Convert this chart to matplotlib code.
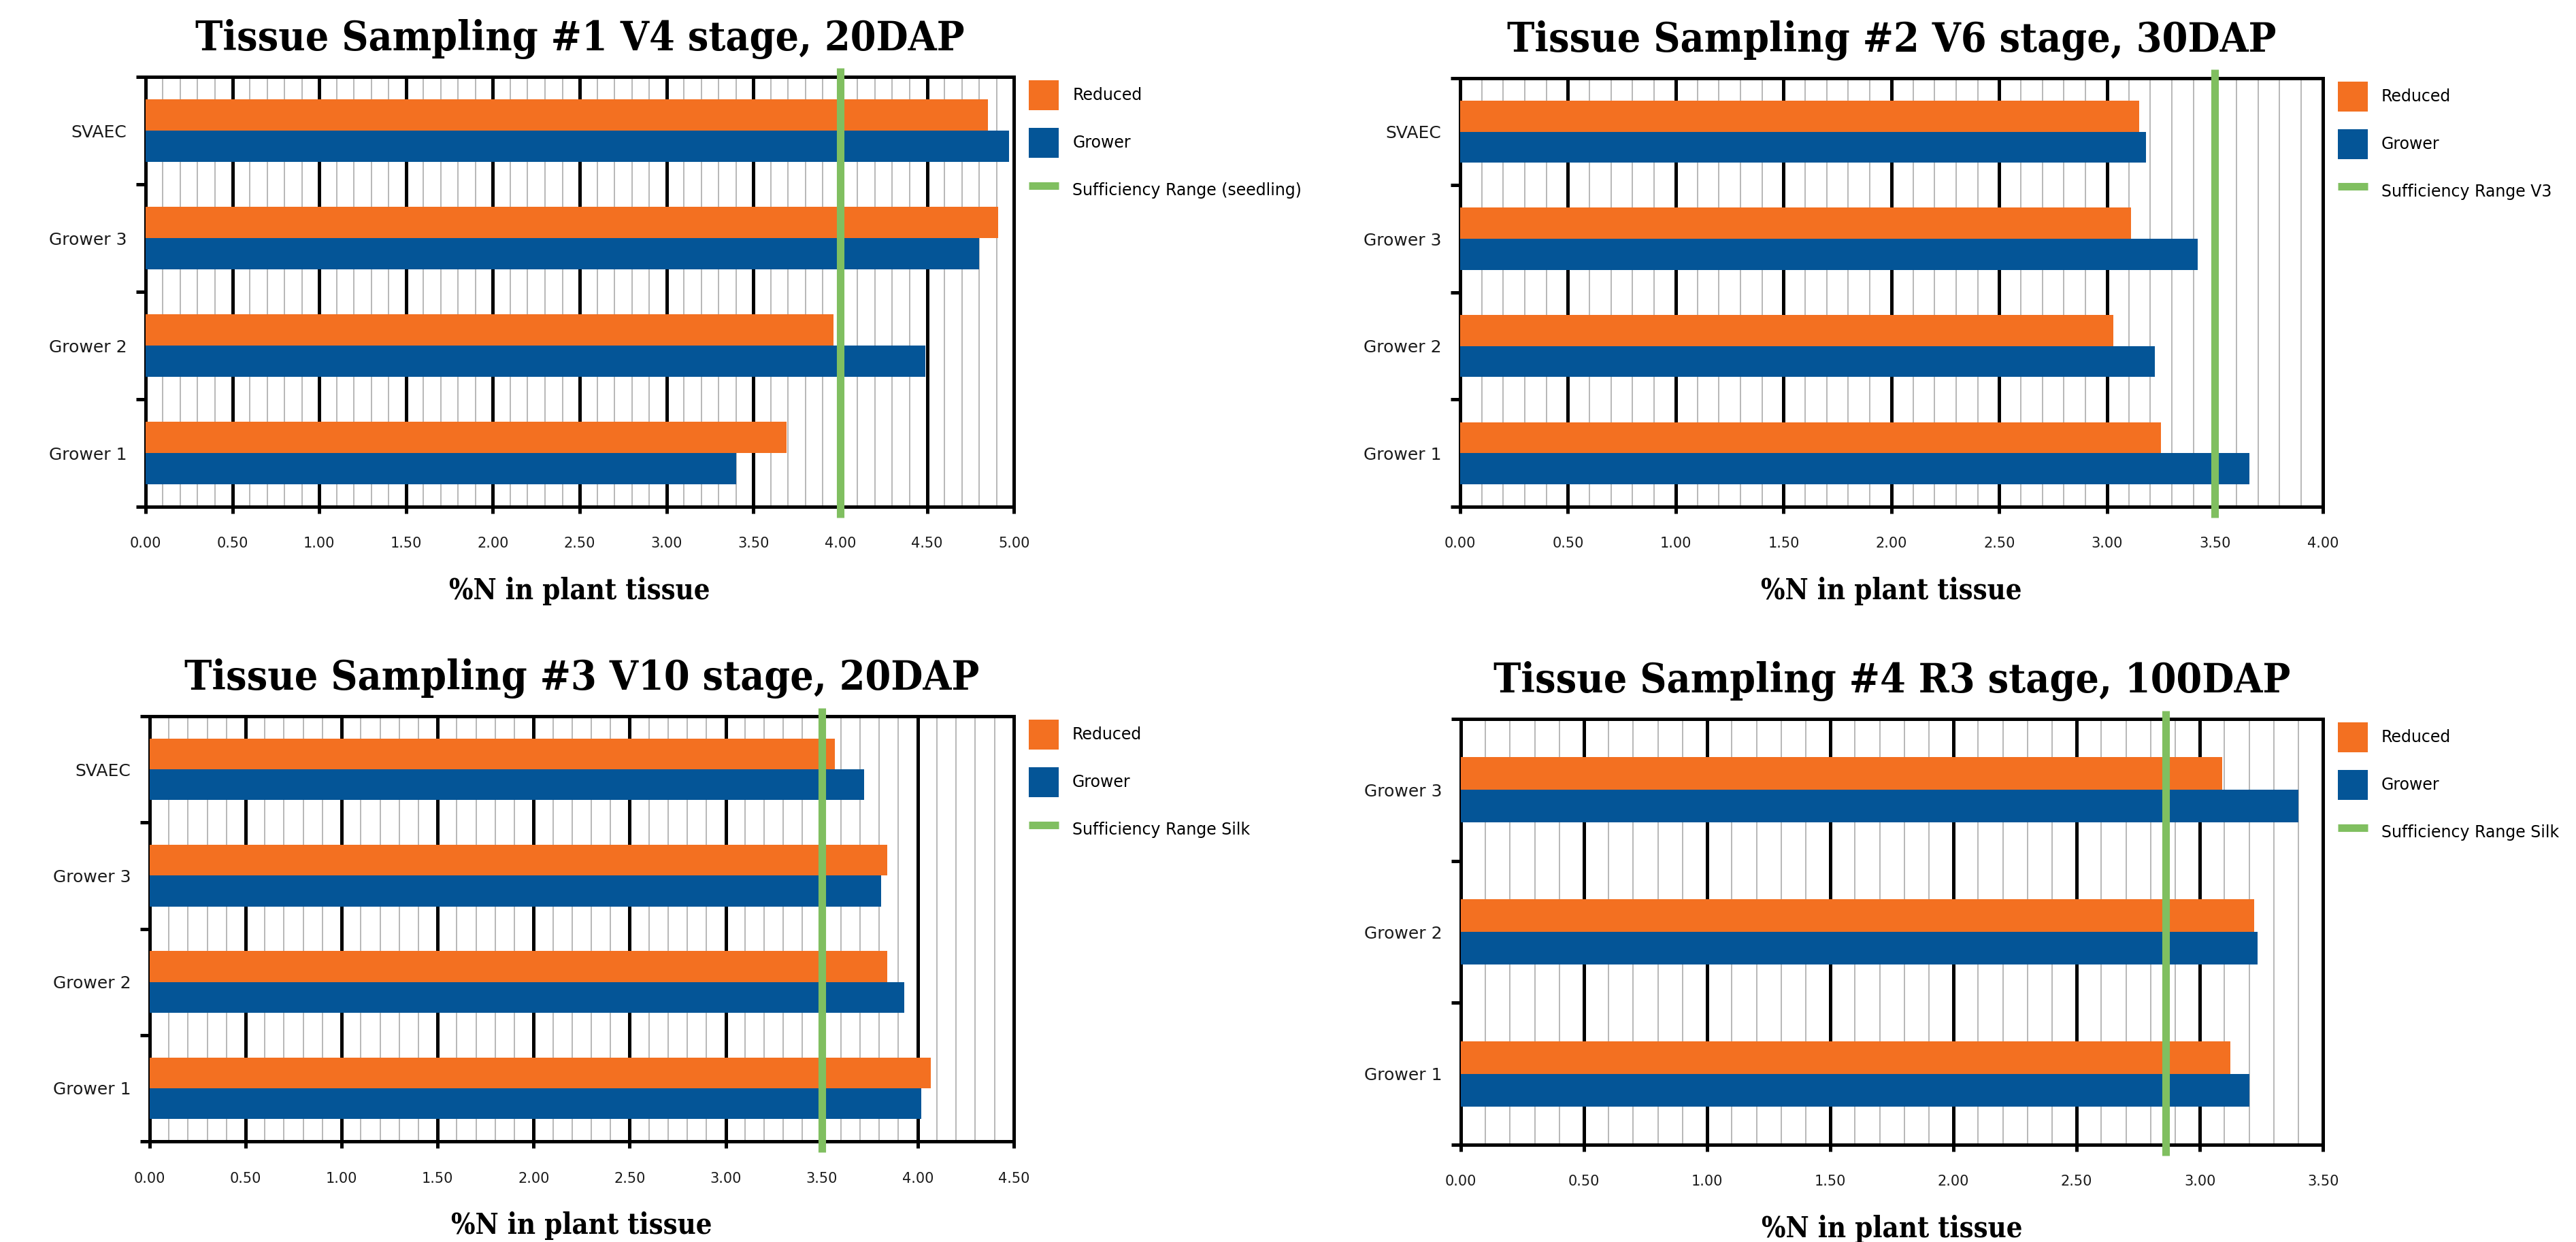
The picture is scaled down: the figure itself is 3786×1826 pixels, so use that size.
import matplotlib
matplotlib.use("Agg")
import matplotlib.pyplot as plt
import numpy as np
from matplotlib.ticker import MultipleLocator, FormatStrFormatter

# colours
ORANGE = '#F37021'
BLUE = '#045597'
GREEN = '#80BF60'

# --- data ---
cats_4 = ['Grower 1', 'Grower 2', 'Grower 3', 'SVAEC']
cats_3 = ['Grower 1', 'Grower 2', 'Grower 3']

s1_reduced = [3.69, 3.96, 4.91, 4.85]
s1_grower = [3.40, 4.49, 4.80, 4.97]
s1_suff = 4.00

s2_reduced = [3.25, 3.03, 3.11, 3.15]
s2_grower = [3.66, 3.22, 3.42, 3.18]
s2_suff = 3.50

s3_reduced = [4.07, 3.84, 3.84, 3.57]
s3_grower = [4.02, 3.93, 3.81, 3.72]
s3_suff = 3.50

s4_reduced = [3.125, 3.22, 3.09]
s4_grower = [3.20, 3.235, 3.40]
s4_suff = 2.86

titles = ['Tissue Sampling #1 V4 stage, 20DAP',
          'Tissue Sampling #2 V6 stage, 30DAP',
          'Tissue Sampling #3 V10 stage, 20DAP',
          'Tissue Sampling #4 R3 stage, 100DAP']
suff_labels = ['Sufficiency Range (seedling)',
               'Sufficiency Range V3',
               'Sufficiency Range Silk',
               'Sufficiency Range Silk']
xmaxes = [5.0, 4.0, 4.5, 3.5]
xlabel = '%N in plant tissue'

TITLE_FONT = dict(family='DejaVu Serif', weight='bold', stretch='condensed')
SANS = 'DejaVu Sans'


def draw_panel(ax, title, cats, reduced, grower, suff, suff_label, xmax, bar_h):
    y = np.arange(len(cats))
    b1 = ax.barh(y + bar_h / 2, reduced, height=bar_h, color=ORANGE, label='Reduced', zorder=3)
    b2 = ax.barh(y - bar_h / 2, grower, height=bar_h, color=BLUE, label='Grower', zorder=3)
    line = ax.axvline(suff, ymin=-0.025, ymax=1.02, color=GREEN, lw=8,
                      clip_on=False, zorder=4, label=suff_label, solid_capstyle='butt')

    ax.set_xlim(0, xmax)
    ax.set_ylim(-0.5, len(cats) - 0.5)

    ax.xaxis.set_major_locator(MultipleLocator(0.5))
    ax.xaxis.set_minor_locator(MultipleLocator(0.1))
    ax.xaxis.set_major_formatter(FormatStrFormatter('%.2f'))
    ax.set_yticks(y)
    ax.set_yticklabels(cats)
    ax.set_yticks(np.arange(len(cats) + 1) - 0.5, minor=True)

    ax.set_axisbelow(True)
    ax.grid(axis='x', which='major', color='black', lw=3.6)
    ax.grid(axis='x', which='minor', color='#a4a4a4', lw=1.1)

    for sp in ax.spines.values():
        sp.set_linewidth(3.6)
        sp.set_color('black')

    ax.tick_params(axis='x', which='major', length=7, width=3.6, pad=25,
                   labelsize=15, labelcolor='#1a1a1a')
    ax.tick_params(axis='x', which='minor', length=0)
    ax.tick_params(axis='y', which='major', length=0, pad=20,
                   labelsize=18, labelcolor='#1a1a1a')
    ax.tick_params(axis='y', which='minor', length=10, width=3.6)
    for lab in ax.get_xticklabels() + ax.get_yticklabels():
        lab.set_family(SANS)

    ax.set_title(title, fontsize=43.5, pad=28, **TITLE_FONT)
    ax.set_xlabel(xlabel, fontsize=30, labelpad=28, **TITLE_FONT)

    ax.legend(handles=[b1, b2, line], loc='upper left',
              bbox_to_anchor=(1.0 + 22 / 1276, 1.0 - 5 / 632), borderaxespad=0,
              borderpad=0, frameon=False, prop={'family': SANS, 'size': 17},
              handlelength=1.86, handleheight=2.49, labelspacing=1.1,
              handletextpad=0.85)


fig = plt.figure(figsize=(37.86, 18.26), dpi=100)

ax1 = fig.add_axes([0.0565, 0.592, 0.3371, 0.3461])
ax2 = fig.add_axes([0.5668, 0.592, 0.3349, 0.3451])
ax3 = fig.add_axes([0.0581, 0.081, 0.3354, 0.3423])
ax4 = fig.add_axes([0.5671, 0.0783, 0.3347, 0.3428])

draw_panel(ax1, titles[0], cats_4, s1_reduced, s1_grower, s1_suff, suff_labels[0], xmaxes[0], 0.29)
draw_panel(ax2, titles[1], cats_4, s2_reduced, s2_grower, s2_suff, suff_labels[1], xmaxes[1], 0.29)
draw_panel(ax3, titles[2], cats_4, s3_reduced, s3_grower, s3_suff, suff_labels[2], xmaxes[2], 0.29)
draw_panel(ax4, titles[3], cats_3, s4_reduced, s4_grower, s4_suff, suff_labels[3], xmaxes[3], 0.23)

fig.savefig('out.png', dpi=100, facecolor='white')
